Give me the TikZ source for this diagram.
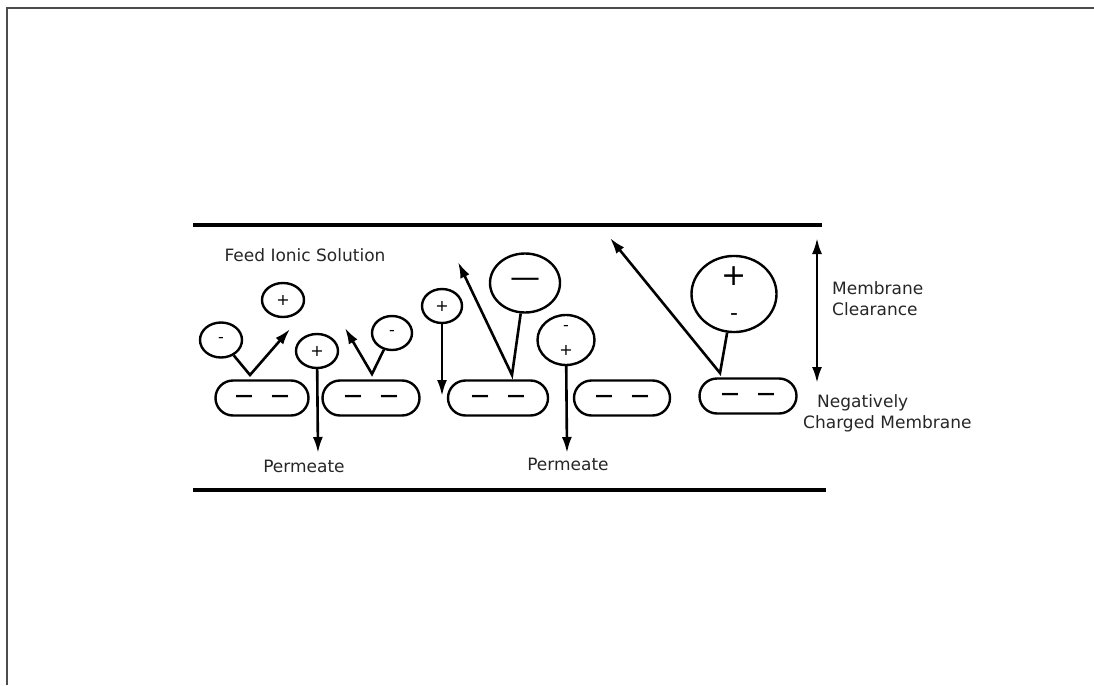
\documentclass[tikz,border=0pt]{standalone}
\usepackage{fontspec}
\setmainfont{DejaVu Sans}
\usetikzlibrary{arrows.meta,shapes.geometric,shapes.misc}

\begin{document}
\begin{tikzpicture}[x=1pt, y=-1pt, font=\fontsize{17}{21}\selectfont,
    ion/.style={draw, ellipse, line width=2.4pt, inner sep=0pt, font=\fontsize{16}{24}\selectfont},
    site/.style={draw, rounded rectangle, line width=2.4pt, minimum height=35pt, inner sep=0pt,
      font=\fontsize{18}{18}\selectfont\bfseries},
    flow/.style={line width=2.6pt, -{Latex[length=16pt,width=10pt]}},
    label/.style={inner sep=0pt, text=black!85}]
    \useasboundingbox (0,0) rectangle (1094,685);
    \draw [line width=2pt, black!70] (7,685) -- (7,8) -- (1094,8);
    % channel walls
    \draw [line width=4.5pt] (193,225) -- (822,225);
    \draw [line width=4.5pt] (193,490) -- (826,490);
    % fixed charges on the membrane
    \node [site, minimum width=93pt] (s1) at (262,398) {—\hspace{18pt}—};
    \node [site, minimum width=97pt] (s2) at (371,398) {—\hspace{18pt}—};
    \node [site, minimum width=100pt] (s3) at (498,398) {—\hspace{18pt}—};
    \node [site, minimum width=96pt] (s4) at (622,398) {—\hspace{18pt}—};
    \node [site, minimum width=97pt] (s5) at (748,396) {—\hspace{18pt}—};
    % ions
    \node [ion, minimum width=42pt, minimum height=35pt] (an1) at (221,340) {-};
    \node [ion, minimum width=42pt, minimum height=34pt] (cat1) at (283,300) {+};
    \node [ion, minimum width=42pt, minimum height=34pt] (cat2) at (317,351) {+};
    \node [ion, minimum width=40pt, minimum height=34pt] (an2) at (392,333) {-};
    \node [ion, minimum width=40pt, minimum height=34pt] (cat3) at (442,306) {+};
    \node [ion, minimum width=70pt, minimum height=59pt, font=\fontsize{30}{30}\selectfont] (an3) at (525,283) {—};
    \node [ion, minimum width=57pt, minimum height=50pt, align=center, font=\fontsize{16}{25}\selectfont] (pair1) at (566,340) {-\\+};
    \node [ion, minimum width=85pt, minimum height=69pt, align=center, font=\fontsize{22}{35}\selectfont] (pair2) at (734,294) {{\fontsize{30}{30}\selectfont +}\\-};
    % bounce points and arrow ends
    \coordinate (v1) at (250,375);
    \coordinate (t1) at (290,329);
    \coordinate (v2) at (372,374);
    \coordinate (t2) at (345,328);
    \coordinate (v3) at (512,375);
    \coordinate (t3) at (458,262);
    \coordinate (v4) at (720,373);
    \coordinate (t4) at (610,238);
    \coordinate (d1) at (318,453);
    \coordinate (d2) at (442,396);
    \coordinate (d3) at (567,453);
    \coordinate (gapTop) at (817,238);
    \coordinate (gapBot) at (817,383);
    % rejected ions
    \draw [flow] (an1) -- (v1) -- (t1);
    \draw [flow] (an2) -- (v2) -- (t2);
    \draw [flow] (an3) -- (v3) -- (t3);
    \draw [flow] (pair2) -- (v4) -- (t4);
    % passing ions
    \draw [flow] (cat2) -- (d1);
    \draw [flow] (cat3) -- (d2);
    \draw [flow] (pair1) -- (d3);
    \draw [line width=2.6pt, {Latex[length=16pt,width=10pt]}-{Latex[length=16pt,width=10pt]}] (gapTop) -- (gapBot);
    % labels
    \node [label] (feed) at (305,255) {Feed Ionic Solution};
    \node [label] (perm1) at (304,466) {Permeate};
    \node [label] (perm2) at (568,464) {Permeate};
    \node [label, anchor=west, align=left] (clear) at (832,299) {Membrane\\Clearance};
    \node [label, anchor=west] (neg) at (817,403) {Negatively};
    \node [label, anchor=west] (charged) at (803,424) {Charged Membrane};
\end{tikzpicture}
\end{document}
